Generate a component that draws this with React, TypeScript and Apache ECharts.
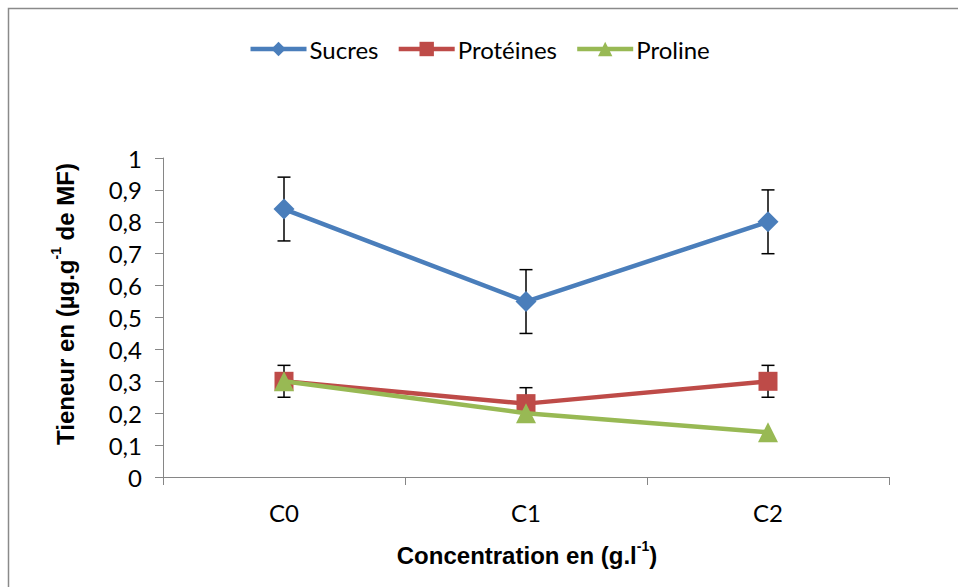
import React, { useEffect, useRef } from "react";
import * as echarts from "echarts";

const categories = ["C0", "C1", "C2"];
const sucres = [0.84, 0.55, 0.8];
const sucresErr = [0.1, 0.1, 0.1];
const proteines = [0.3, 0.23, 0.3];
const proteinesErr = [0.05, 0.05, 0.05];
const proline = [0.3, 0.2, 0.14];
const yTicks = [0, 0.1, 0.2, 0.3, 0.4, 0.5, 0.6, 0.7, 0.8, 0.9, 1];

const BLUE = "#4A7EBB";
const RED = "#BE4B48";
const GREEN = "#98B954";

export default function App() {
  const ref = useRef<HTMLDivElement>(null);
  useEffect(() => {
    document.body.style.margin = "0";
    const chart = echarts.init(ref.current!, null, { renderer: "svg" });
    const errData = (vals: number[], errs: number[]) =>
      vals.map((v, i) => [i, v - errs[i], v + errs[i]]);
    const errSeries = (name: string, vals: number[], errs: number[]) => ({
      type: "custom",
      name: name + "_err",
      z: 1,
      silent: true,
      data: errData(vals, errs),
      renderItem: (params: any, api: any) => {
        const x = api.value(0);
        const lo = api.coord([x, api.value(1)]);
        const hi = api.coord([x, api.value(2)]);
        const cap = 6.5;
        const style = { stroke: "#000", lineWidth: 1.5 };
        return {
          type: "group",
          children: [
            { type: "line", shape: { x1: lo[0], y1: lo[1], x2: hi[0], y2: hi[1] }, style },
            { type: "line", shape: { x1: lo[0] - cap, y1: lo[1], x2: lo[0] + cap, y2: lo[1] }, style },
            { type: "line", shape: { x1: hi[0] - cap, y1: hi[1], x2: hi[0] + cap, y2: hi[1] }, style },
          ],
        };
      },
    });
    const titleRich = {
      b: { fontFamily: "Liberation Sans", fontWeight: "bold", fontSize: 24, fill: "#000", lineHeight: 28, verticalAlign: "bottom" },
      s: { fontFamily: "Liberation Sans", fontWeight: "bold", fontSize: 14, fill: "#000", lineHeight: 28, verticalAlign: "top", padding: [0, 0, 12, 0] },
    };
    chart.setOption({
      animation: false,
      backgroundColor: "#fff",
      legend: {
        top: 32,
        left: "center",
        itemWidth: 56,
        itemHeight: 18,
        itemGap: 18,
        data: ["Sucres", "Protéines", "Proline"],
        lineStyle: { width: 4.5 },
        textStyle: { fontFamily: "Lato", fontSize: 24, color: "#000", padding: [0, 0, 0, -2] },
      },
      grid: { left: 163, right: 69, top: 158, bottom: 110 },
      xAxis: {
        type: "category",
        data: categories,
        axisLine: { lineStyle: { color: "#868686", width: 1 } },
        axisTick: { show: true, length: 8, lineStyle: { color: "#868686" } },
        axisLabel: { fontFamily: "Lato", fontSize: 24, color: "#000", margin: 23 },
        splitLine: { show: false },
      },
      yAxis: {
        type: "value",
        min: 0,
        max: 1,
        interval: 0.1,
        axisLine: { show: true, lineStyle: { color: "#868686", width: 1 } },
        axisTick: { show: true, length: 8, lineStyle: { color: "#868686" } },
        axisLabel: {
          fontFamily: "Lato",
          fontSize: 24,
          color: "#000",
          margin: 21,
          formatter: (v: number) => {
            const t = yTicks.find((x) => Math.abs(x - v) < 1e-9);
            return t === undefined ? "" : String(Math.round(t * 10) / 10).replace(".", ",");
          },
        },
        splitLine: { show: false },
      },
      graphic: [
        {
          type: "rect",
          shape: { x: 8.5, y: 8.5, width: 1200, height: 1200 },
          style: { fill: "none", stroke: "#8a8a8a", lineWidth: 1.5 },
          silent: true,
        },
        {
          type: "text",
          x: 63,
          y: 304,
          rotation: Math.PI / 2,
          style: {
            text: "{b|Tieneur en (µg.g}{s|-1}{b| de MF)}",
            align: "center",
            verticalAlign: "middle",
            rich: titleRich,
          },
        },
        {
          type: "text",
          x: 527,
          y: 553,
          style: {
            text: "{b|Concentration en (g.l}{s|-1}{b|)}",
            align: "center",
            verticalAlign: "middle",
            rich: titleRich,
          },
        },
      ],
      series: [
        errSeries("Sucres", sucres, sucresErr),
        errSeries("Protéines", proteines, proteinesErr),
        {
          name: "Sucres",
          type: "line",
          data: sucres,
          z: 2,
          symbol: "diamond",
          symbolSize: 21,
          lineStyle: { color: BLUE, width: 4.5 },
          itemStyle: { color: BLUE },
        },
        {
          name: "Protéines",
          type: "line",
          data: proteines,
          z: 3,
          symbol: "rect",
          symbolSize: 19,
          lineStyle: { color: RED, width: 4.5 },
          itemStyle: { color: RED },
        },
        {
          name: "Proline",
          type: "line",
          data: proline,
          z: 4,
          symbol: "triangle",
          symbolSize: 20,
          lineStyle: { color: GREEN, width: 4.5 },
          itemStyle: { color: GREEN },
        },
      ],
    });
    return () => chart.dispose();
  }, []);
  return (
    <div
      ref={ref}
      style={{ position: "fixed", left: 0, top: 0, width: 958, height: 587 }}
    />
  );
}
